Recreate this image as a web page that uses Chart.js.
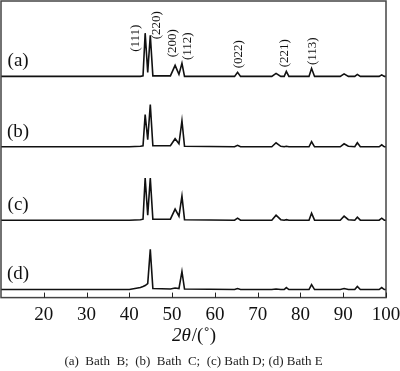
<!DOCTYPE html>
<html>
<head>
<meta charset="utf-8">
<script src="https://cdn.jsdelivr.net/npm/chart.js@4/dist/chart.umd.min.js"></script>
<style>
  html, body { margin: 0; padding: 0; background: #fff; }
  #wrap { width: 400px; height: 371px; }
</style>
</head>
<body>
<div id="wrap"><canvas id="xrd-chart"></canvas></div>
<script>
// 2theta positions (deg) shared by all four patterns
const twoTheta = [10, 40, 42.6, 43.2, 43.7, 44.3, 44.9, 45.5, 49.6, 50.7, 51.6, 52.3, 52.9,
  64.6, 65.3, 66.0, 73.3, 74.3, 75.4, 76.2, 76.7, 77.3, 82.0, 82.6, 83.3,
  89.3, 90.2, 91.2, 92.7, 93.3, 94.0, 98.4, 99.0, 99.6, 100];

// relative intensities (a.u.)
const bathB = [0, 0, 0, 0.5, 43, 4, 41, 0.5, 0.5, 11, 2, 13, 0, 0, 4, 0, 0, 3, 0, 0, 5, 0, 0, 8, 0, 0, 2.5, 0, 0, 2, 0, 0, 1.5, 0, 0];
const bathC = [0, 0, 0.5, 1, 32, 7, 42, 1, 1, 8, 3, 26, 0.5, 0, 1.5, 0, 0, 4, 0.5, 0, 0.5, 0, 0, 5, 0, 0, 3, 0.5, 0, 4, 0, 0, 2, 0, 0];
const bathD = [0, 0, 0.5, 1, 42, 5, 42, 1, 1, 11, 4, 24, 0.5, 0, 2, 0, 0, 5, 0.5, 0, 0.5, 0, 0, 7, 0, 0, 4, 0.5, 0, 3, 0, 0, 2, 0, 0];
const bathE = [0, 0, 2, 3, 4, 6, 40, 1, 0.5, 1.5, 1, 18, 0.5, 0, 1, 0, 0, 0.5, 0, 0, 2, 0, 0, 5, 0, 0, 1, 0, 0, 3, 0, 0, 2, 0, 0];

const seriesNames = ["(a)", "(b)", "(c)", "(d)"];
const seriesValues = [bathB, bathC, bathD, bathE];
const stackOffsets = [220, 150, 77, 8];   // vertical shift of each pattern

const xTicks = [20, 30, 40, 50, 60, 70, 80, 90, 100];

// peak indexes
const hklLabels = ["(111)", "(220)", "(200)", "(112)", "(022)", "(221)", "(113)"];
const hklX = [41.5, 46.3, 50.1, 53.6, 65.5, 76.3, 82.8];
const hklY = [258, 271, 253, 250, 242, 243, 245];

const serif = "'Liberation Serif', 'Times New Roman', serif";

const datasets = seriesValues.map((vals, i) => ({
  label: seriesNames[i],
  data: twoTheta.map((t, j) => ({ x: t, y: vals[j] + stackOffsets[i] })),
  borderColor: "#111",
  borderWidth: 1.6,
  pointRadius: 0,
  tension: 0,
  fill: false,
}));

const framePlugin = {
  id: "frame",
  afterDraw(chart) {
    const { ctx, chartArea: a, scales } = chart;
    ctx.save();
    // box
    ctx.strokeStyle = "#444";
    ctx.lineWidth = 1.5;
    ctx.strokeRect(a.left, a.top, a.right - a.left, a.bottom - a.top);
    // inward ticks
    ctx.strokeStyle = "#222";
    ctx.lineWidth = 1;
    xTicks.forEach((t) => {
      const px = Math.round(scales.x.getPixelForValue(t)) + 0.5;
      ctx.beginPath();
      ctx.moveTo(px, a.bottom);
      ctx.lineTo(px, a.bottom - 5);
      ctx.stroke();
    });
    // pattern names
    ctx.fillStyle = "#111";
    ctx.font = "19px " + serif;
    ctx.textAlign = "center";
    ctx.textBaseline = "middle";
    seriesNames.forEach((n, i) => {
      ctx.fillText(n, scales.x.getPixelForValue(14), scales.y.getPixelForValue(stackOffsets[i] + 15));
    });
    // hkl labels, rotated
    ctx.font = "13px " + serif;
    hklLabels.forEach((h, i) => {
      ctx.save();
      ctx.translate(scales.x.getPixelForValue(hklX[i]), scales.y.getPixelForValue(hklY[i]));
      ctx.rotate(-Math.PI / 2);
      ctx.fillText(h, 0, 0);
      ctx.restore();
    });
    // axis title: italic 2θ then /(˚)
    const italicPart = "2θ", plainPart = "/(˚)";
    ctx.font = "italic 19px " + serif;
    const w1 = ctx.measureText(italicPart).width;
    ctx.font = "19px " + serif;
    const w2 = ctx.measureText(plainPart).width;
    const x0 = (a.left + a.right) / 2 - (w1 + w2) / 2;
    const ty = a.bottom + 38;
    ctx.textAlign = "left";
    ctx.font = "italic 19px " + serif;
    ctx.fillText(italicPart, x0, ty);
    ctx.font = "19px " + serif;
    ctx.fillText(plainPart, x0 + w1 + 1, ty);
    ctx.restore();
  },
};

new Chart(document.getElementById("xrd-chart").getContext("2d"), {
  type: "line",
  data: { datasets },
  options: {
    responsive: true,
    maintainAspectRatio: false,
    animation: false,
    layout: { padding: { left: 1, top: 1, right: 14, bottom: 2 } },
    plugins: {
      legend: { display: false },
      tooltip: { enabled: false },
      title: {
        display: true,
        position: "bottom",
        text: "(a)  Bath  B;  (b)  Bath  C;  (c) Bath D; (d) Bath E",
        color: "#222",
        font: { family: serif, size: 13, weight: "normal" },
        padding: { top: 21, bottom: 0 },
      },
    },
    scales: {
      x: {
        type: "linear",
        min: 10,
        max: 100,
        afterBuildTicks: (s) => { s.ticks = xTicks.map((v) => ({ value: v })); },
        afterFit: (s) => { s.paddingLeft = 0; s.paddingRight = 0; },
        grid: { display: false, drawTicks: false },
        border: { display: false },
        ticks: {
          color: "#111",
          padding: 6,
          font: { family: serif, size: 19 },
          maxRotation: 0,
        },
      },
      y: {
        display: false,
        min: 0,
        max: 295,
      },
    },
  },
  plugins: [framePlugin],
});
</script>
</body>
</html>
